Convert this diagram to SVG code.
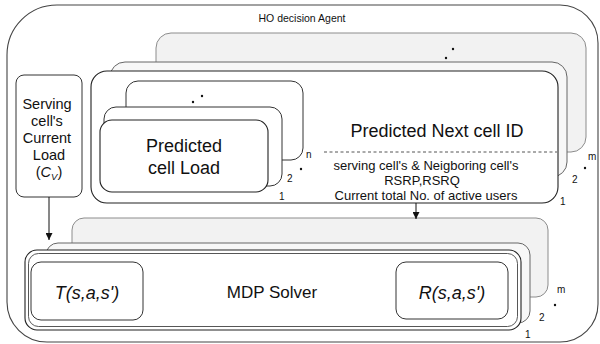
<svg xmlns="http://www.w3.org/2000/svg" width="600" height="344" viewBox="0 0 600 344">
  <style>
    text { font-family: "Liberation Sans", Arial, sans-serif; fill: #111; }
    .back { fill: #f2f2f2; stroke: #8c8c8c; stroke-width: 1; }
    .mid { fill: #f7f7f7; stroke: #666; stroke-width: 1; }
    .front { fill: #ffffff; stroke: #222; stroke-width: 1.1; }
    .box { fill: #ffffff; stroke: #333; stroke-width: 1; }
    .idx { font-size: 10px; }
    .dot { fill: #111; }
    .conn { stroke: #111; stroke-width: 1; fill: none; }
  </style>
  <defs>
    <marker id="arrow" viewBox="0 0 10 10" refX="10" refY="5" markerWidth="7" markerHeight="7" orient="auto" markerUnits="userSpaceOnUse">
      <path d="M0,0 L10,5 L0,10 z" fill="#111"/>
    </marker>
  </defs>

  <rect width="600" height="344" fill="#ffffff"/>

  <!-- agent container -->
  <g id="agent">
    <path d="M57,5 H560 A38,38 0 0 1 598,43 V304 A38,38 0 0 1 560,342 H47 A40,40 0 0 1 7,302 V55 A50,50 0 0 1 57,5 Z" fill="#ffffff" stroke="#444" stroke-width="1.1"/>
    <text x="302" y="22" font-size="10.5" text-anchor="middle">HO decision Agent</text>
  </g>

  <!-- next-cell prediction stack -->
  <g id="next-cell">
    <rect class="back" x="156" y="33" width="430" height="119" rx="15"/>
    <rect class="mid" x="110" y="62" width="457" height="115" rx="15"/>
    <rect class="front" x="91" y="71" width="467" height="132" rx="16"/>
    <circle class="dot" cx="453" cy="49" r="1.2"/>
    <circle class="dot" cx="446" cy="58" r="1.2"/>
    <text x="437" y="137" font-size="18" text-anchor="middle">Predicted Next cell ID</text>
    <line x1="324" y1="152" x2="557" y2="152" stroke="#555" stroke-width="1" stroke-dasharray="3,2.5"/>
    <text x="426" y="170" font-size="13" text-anchor="middle">serving cell's &amp; Neigboring cell's</text>
    <text x="422" y="185" font-size="13" text-anchor="middle">RSRP,RSRQ</text>
    <text x="426" y="200" font-size="13" text-anchor="middle">Current total No. of active users</text>
    <text class="idx" x="588" y="160">m</text>
    <circle class="dot" cx="585" cy="168" r="1.2"/>
    <text class="idx" x="572" y="183">2</text>
    <text class="idx" x="560" y="205">1</text>
  </g>

  <!-- cell load prediction stack -->
  <g id="cell-load">
    <rect class="box" x="126" y="81" width="177" height="79" rx="12"/>
    <rect class="box" x="104" y="107" width="178" height="79" rx="12"/>
    <rect class="front" x="100" y="120" width="168" height="72" rx="12"/>
    <circle class="dot" cx="193" cy="102" r="1.2"/>
    <circle class="dot" cx="202" cy="96" r="1.2"/>
    <text x="184" y="152" font-size="18" text-anchor="middle">Predicted</text>
    <text x="184" y="174" font-size="18" text-anchor="middle">cell Load</text>
    <text class="idx" x="306" y="158">n</text>
    <circle class="dot" cx="301" cy="169" r="1.2"/>
    <text class="idx" x="287" y="182">2</text>
    <text class="idx" x="279" y="200">1</text>
  </g>

  <!-- current load input -->
  <g id="serving-load">
    <rect class="box" x="16" y="75" width="66" height="122" rx="8"/>
    <text font-size="14.5" text-anchor="middle">
      <tspan x="49" y="109">Serving</tspan>
      <tspan x="49" y="126">cell's</tspan>
      <tspan x="49" y="143">Current</tspan>
      <tspan x="49" y="160">Load</tspan>
    </text>
    <text x="49" y="177" font-size="14.5" text-anchor="middle">(<tspan font-style="italic">C</tspan><tspan font-style="italic" font-size="9.5" dy="3">V</tspan><tspan dy="-3">)</tspan></text>
  </g>

  <!-- MDP solver stack -->
  <g id="mdp-solver">
    <rect class="back" x="72" y="218" width="476" height="79" rx="12"/>
    <rect class="mid" x="46" y="243" width="484" height="80" rx="12"/>
    <rect class="front" x="25" y="250" width="496" height="80" rx="12"/>
    <rect x="28.5" y="253.5" width="489" height="73" rx="10" fill="none" stroke="#444" stroke-width="0.9"/>
    <text x="272" y="298" font-size="17" text-anchor="middle">MDP Solver</text>
    <text class="idx" x="557" y="293">m</text>
    <circle class="dot" cx="555" cy="305" r="1.2"/>
    <text class="idx" x="539" y="321">2</text>
    <text class="idx" x="525" y="338">1</text>
  </g>

  <g id="transition">
    <rect class="box" x="31" y="262" width="112" height="58" rx="10"/>
    <text x="87" y="299" font-size="18" font-style="italic" text-anchor="middle">T(s,a,s')</text>
  </g>

  <g id="reward">
    <rect class="box" x="396" y="262" width="112" height="57" rx="10"/>
    <text x="452" y="299" font-size="18" font-style="italic" text-anchor="middle">R(s,a,s')</text>
  </g>

  <!-- connectors -->
  <g id="connectors">
    <line class="conn" x1="49" y1="197" x2="49" y2="240" marker-end="url(#arrow)"/>
    <line class="conn" x1="416" y1="203" x2="416" y2="219" marker-end="url(#arrow)"/>
  </g>
</svg>
